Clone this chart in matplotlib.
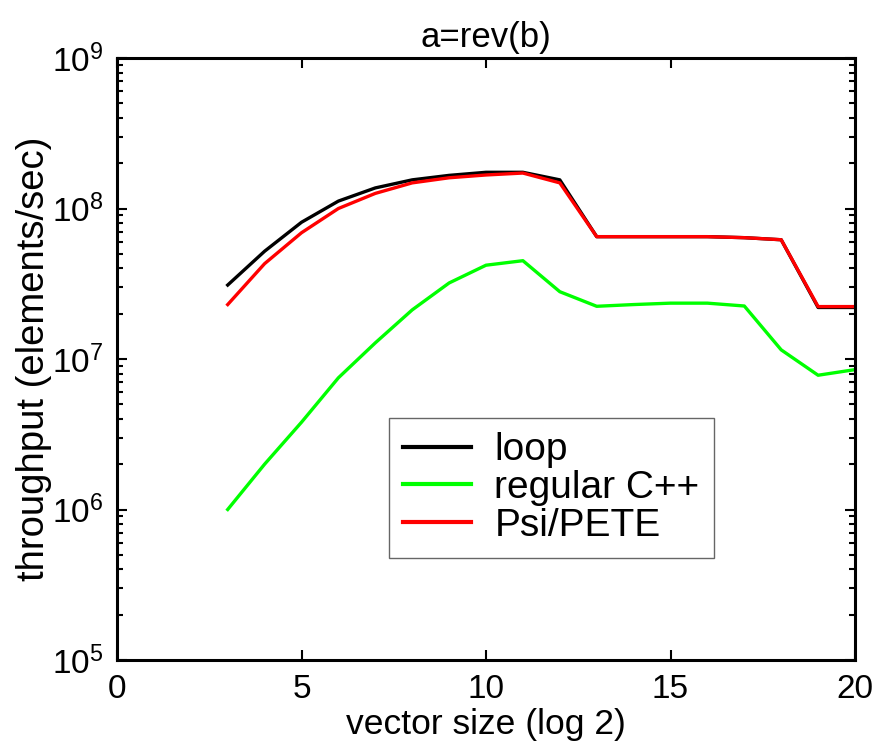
import numpy as np
import matplotlib
matplotlib.use("Agg")
import matplotlib.pyplot as plt
from matplotlib.ticker import LogLocator, NullFormatter

plt.rcParams['font.family'] = ['Liberation Sans', 'DejaVu Sans']

# vector size (log2)
sizes = [3, 4, 5, 6, 7, 8, 9, 10, 11, 12, 13, 14, 15, 16, 17, 18, 19, 20]

# throughput in elements/sec
loop = [3.1e7, 5.2e7, 8.1e7, 1.12e8, 1.37e8, 1.55e8, 1.66e8, 1.74e8, 1.74e8, 1.55e8,
        6.5e7, 6.5e7, 6.5e7, 6.5e7, 6.4e7, 6.2e7, 2.2e7, 2.2e7]
regular_cpp = [1.0e6, 2.0e6, 3.8e6, 7.5e6, 1.28e7, 2.12e7, 3.2e7, 4.2e7, 4.5e7, 2.8e7,
               2.24e7, 2.3e7, 2.35e7, 2.35e7, 2.25e7, 1.15e7, 7.8e6, 8.5e6]
psi_pete = [2.3e7, 4.3e7, 6.9e7, 1.0e8, 1.26e8, 1.48e8, 1.6e8, 1.67e8, 1.72e8, 1.48e8,
            6.5e7, 6.5e7, 6.5e7, 6.5e7, 6.4e7, 6.2e7, 2.23e7, 2.23e7]

fig = plt.figure(figsize=(8.8, 7.54), dpi=100)
ax = fig.add_axes([117/880, 1 - 660/754, 738/880, 602/754])

ax.plot(sizes, loop, color='black', lw=2.4, label='loop')
ax.plot(sizes, regular_cpp, color='#00ff00', lw=2.4, label='regular C++')
ax.plot(sizes, psi_pete, color='#ff0000', lw=2.4, label='Psi/PETE')

ax.set_yscale('log')
ax.set_xlim(0, 20)
ax.set_ylim(1e5, 1e9)
ax.set_xticks([0, 5, 10, 15, 20])
ax.yaxis.set_major_locator(LogLocator(base=10, numticks=10))
ax.yaxis.set_minor_locator(LogLocator(base=10, subs=np.arange(2, 10), numticks=10))
ax.yaxis.set_minor_formatter(NullFormatter())

ax.tick_params(which='both', direction='in', top=True, right=True, width=1.5)
ax.tick_params(which='major', length=7, labelsize=24, pad=10)
ax.tick_params(which='minor', length=4)
for s in ax.spines.values():
    s.set_linewidth(2.2)

ax.set_xlabel('vector size (log 2)', fontsize=25.5, labelpad=2)
ax.set_ylabel('throughput (elements/sec)', fontsize=27.5, labelpad=0)
ax.set_title('a=rev(b)', fontsize=25, pad=8)

leg = ax.legend(loc='lower left', bbox_to_anchor=(0.3686, 0.1694), borderaxespad=0,
                fontsize=28, fancybox=False, framealpha=1, edgecolor='#666666',
                handlelength=1.75, borderpad=0.36, labelspacing=0.05,
                handletextpad=0.6)
leg.get_frame().set_linewidth(1.0)
for line in leg.get_lines():
    line.set_linewidth(3.0)

fig.savefig('out.png', dpi=100)
